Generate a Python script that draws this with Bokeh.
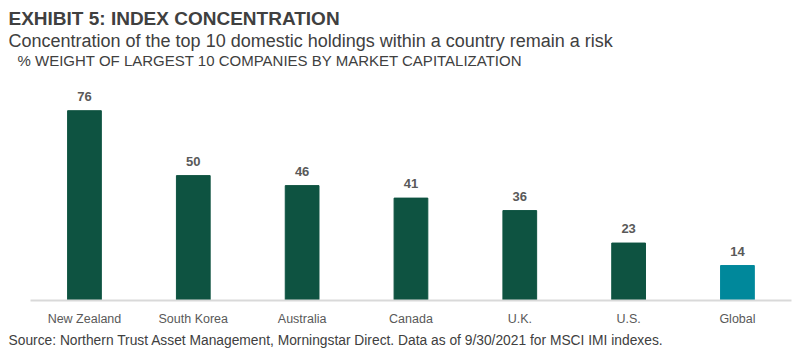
from bokeh.plotting import figure
from bokeh.models import Range1d, FixedTicker, Title, ColumnDataSource, Label
from bokeh.core.properties import value
from bokeh.embed import file_html
from bokeh.resources import INLINE

categories = ["New Zealand", "South Korea", "Australia", "Canada", "U.K.", "U.S.", "Global"]
weights = [76, 50, 46, 41, 36, 23, 14]
bar_colors = ["#0E5341", "#0E5341", "#0E5341", "#0E5341", "#0E5341", "#0E5341", "#00889B"]

FONT = "Liberation Sans"
X0, X1 = -0.698, 6.561
Y0, Y1 = 0, 100.1
xs = list(range(len(categories)))
src = ColumnDataSource(dict(x=xs, w=weights, c=bar_colors, lbl=[str(v) for v in weights]))

p = figure(width=798, height=345, output_backend="svg", toolbar_location=None,
           x_range=Range1d(X0, X1), y_range=Range1d(Y0, Y1),
           min_border_left=8, min_border_right=0, min_border_top=0, min_border_bottom=0)
p.margin = (5, 0, 0, 0)
p.outline_line_color = None
p.grid.grid_line_color = None
p.yaxis.visible = False

p.vbar(x="x", top="w", width=0.31, color="c", source=src)
p.text(x="x", y="w", text="lbl", source=src, text_align="center", text_baseline="bottom",
       y_offset=-10, text_font=value(FONT), text_font_size="13px", text_font_style="bold",
       text_color="#595959")

xa = p.xaxis[0]
xa.ticker = FixedTicker(ticks=xs)
xa.major_label_overrides = {i: c for i, c in enumerate(categories)}
xa.bounds = (-0.5, 6.5)
xa.axis_line_color = "#D9D9D9"
xa.axis_line_width = 2
xa.major_tick_line_color = None
xa.minor_tick_line_color = None
xa.major_label_standoff = 5
xa.major_label_text_font = FONT
xa.major_label_text_font_size = "12.5px"
xa.major_label_text_color = "#595959"

p.add_layout(Title(text="Source: Northern Trust Asset Management, Morningstar Direct. Data as of 9/30/2021 for MSCI IMI indexes.",
                   align="left", text_font=FONT, text_font_size="13.8px", text_font_style="normal",
                   text_color="#404040", offset=0, standoff=5), "below")

p.add_layout(Label(x=X0, y=Y1, x_offset=9, y_offset=-10, text_baseline="middle", text_align="left",
                   text="% WEIGHT OF LARGEST 10 COMPANIES BY MARKET CAPITALIZATION",
                   text_font=FONT, text_font_size="15px", text_color="#404040"))
p.add_layout(Title(text="Concentration of the top 10 domestic holdings within a country remain a risk",
                   align="left", text_font=FONT, text_font_size="18px", text_font_style="normal",
                   text_color="#404040", offset=0, standoff=0), "above")
p.add_layout(Title(text="EXHIBIT 5: INDEX CONCENTRATION",
                   align="left", text_font=FONT, text_font_size="19px", text_font_style="bold",
                   text_color="#404040", offset=0, standoff=0), "above")

open("out.html", "w").write(file_html(p, INLINE))
